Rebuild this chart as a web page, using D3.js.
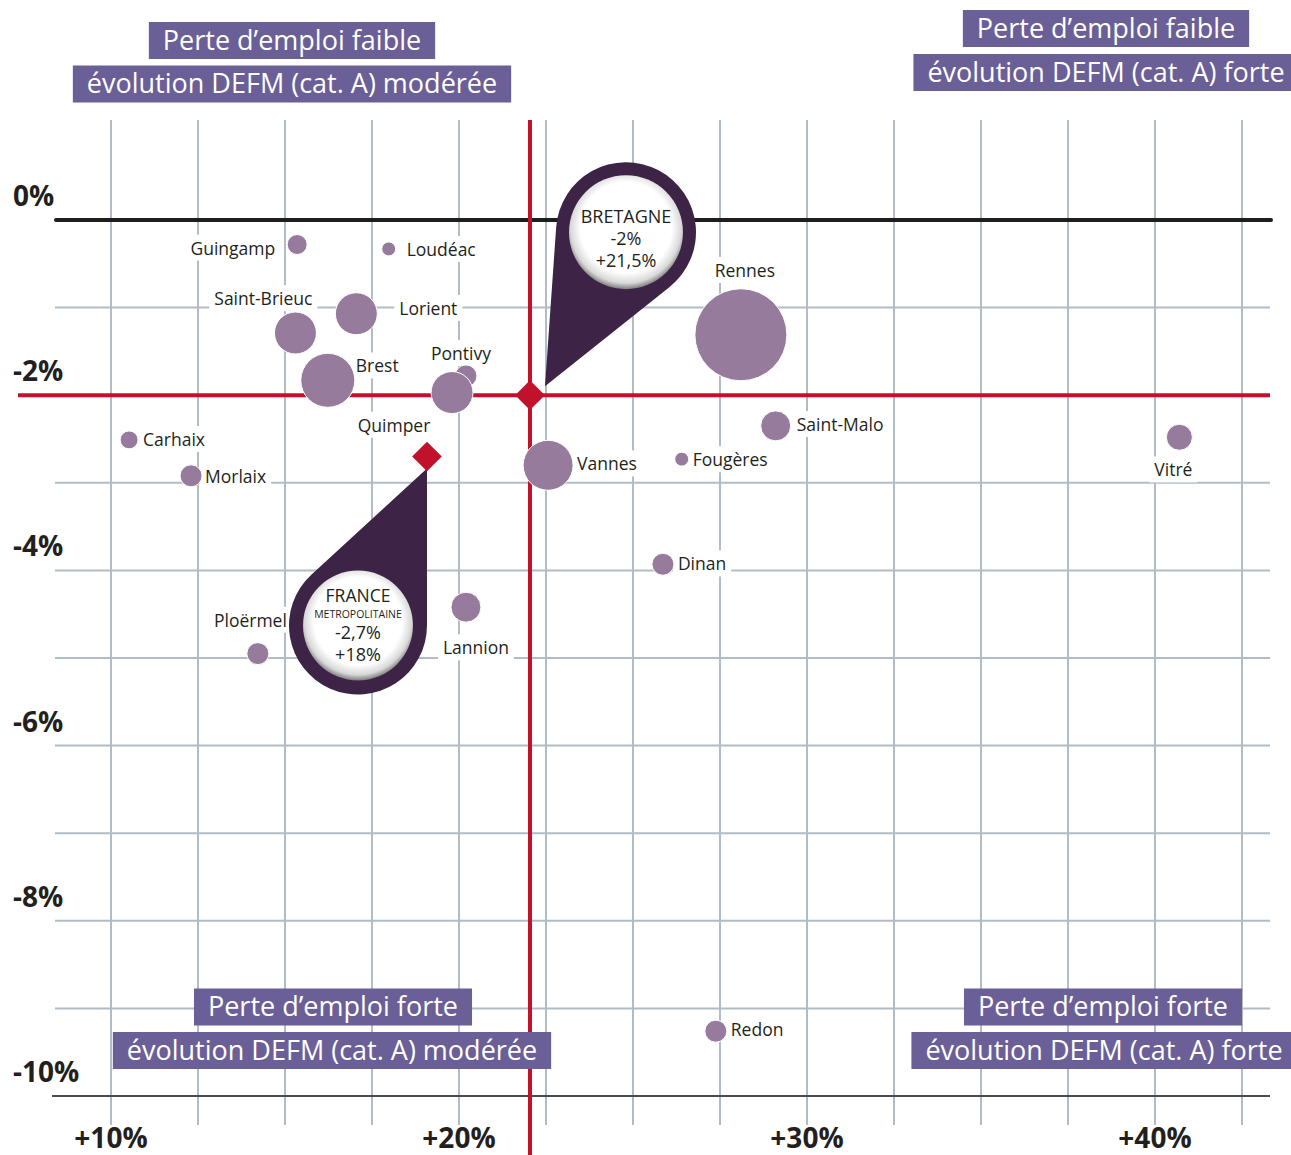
<!DOCTYPE html>
<html>
<head>
<meta charset="utf-8">
<script src="https://cdnjs.cloudflare.com/ajax/libs/d3/7.8.5/d3.min.js"></script>
<style>
  body { margin: 0; background: #fff; }
  svg { display: block; font-family: "Open Sans", "Noto Sans", sans-serif; }
</style>
</head>
<body>
<svg id="chart" width="1291" height="1155"></svg>
<script>
// zones d'emploi : évolution DEFM cat. A (%) en x, évolution de l'emploi (%) en y
const zones = ["Guingamp", "Loudéac", "Saint-Brieuc", "Lorient", "Brest", "Pontivy", "Quimper",
  "Rennes", "Saint-Malo", "Vitré", "Fougères", "Vannes", "Carhaix", "Morlaix", "Dinan",
  "Lannion", "Ploërmel", "Redon"];
const evolDEFM = [15.35, 17.98, 15.3, 17.05, 16.23, 20.2, 19.8,
  28.1, 29.1, 40.7, 26.4, 22.56, 10.52, 12.3, 25.86,
  20.2, 14.22, 27.38];
const evolEmploi = [-0.28, -0.33, -1.29, -1.07, -1.83, -1.78, -1.97,
  -1.31, -2.35, -2.48, -2.73, -2.80, -2.51, -2.92, -3.93,
  -4.42, -4.95, -9.26];
const poids = [4.7, 2.3, 20.8, 20.8, 34.5, 5.7, 20.8,
  100, 10.6, 8, 2.3, 29.5, 3.8, 5.7, 5.7,
  10.6, 5.7, 5.7];

// références
const refNoms = ["BRETAGNE", "FRANCE"];
const refDEFM = [22.04, 19.08];
const refEmploi = [-2.0, -2.7];
const refTextes = [["BRETAGNE", "-2%", "+21,5%"], ["FRANCE", "METROPOLITAINE", "-2,7%", "+18%"]];

const xTicks = [10, 20, 30, 40];
const yTicks = [0, -2, -4, -6, -8, -10];
const quadrants = [
  ["Perte d’emploi faible", "évolution DEFM (cat. A) modérée"],
  ["Perte d’emploi faible", "évolution DEFM (cat. A) forte"],
  ["Perte d’emploi forte", "évolution DEFM (cat. A) modérée"],
  ["Perte d’emploi forte", "évolution DEFM (cat. A) forte"]
];

const gridColor = "#b1bcc6";
const bubbleColor = "#967b9d";
const boxColor = "#6b5f97";
const red = "#c1112b";
const dark = "#3d2446";

const svg = d3.select("#chart");
const x = d3.scaleLinear().domain([10, 40]).range([111, 1155]);
const y = d3.scaleLinear().domain([0, -10]).range([220, 1096]);
const r = d3.scaleSqrt().domain([0, 100]).range([0, 46]);

const defs = svg.append("defs");
const grad = defs.append("radialGradient").attr("id", "bulle")
  .attr("cx", "50%").attr("cy", "46%").attr("r", "54%");
grad.append("stop").attr("offset", "0%").attr("stop-color", "#fff");
grad.append("stop").attr("offset", "74%").attr("stop-color", "#fff");
grad.append("stop").attr("offset", "90%").attr("stop-color", "#d9d9d9");
grad.append("stop").attr("offset", "100%").attr("stop-color", "#7d7d7d");

// grille
const grid = svg.append("g").attr("stroke", gridColor).attr("stroke-width", 2);
grid.selectAll("line.v")
  .data(d3.range(10, 42.6, 2.5))
  .join("line")
  .attr("x1", d => x(d)).attr("x2", d => x(d))
  .attr("y1", 120).attr("y2", 1125);
grid.selectAll("line.h")
  .data(d3.range(-1, -9.5, -1))
  .join("line")
  .attr("x1", 55).attr("x2", 1270)
  .attr("y1", d => y(d)).attr("y2", d => y(d));

// fonds blancs des étiquettes (coupent la grille)
const labelBg = svg.append("g");

// axe bas + ligne 0
svg.append("line").attr("x1", 52).attr("x2", 1270)
  .attr("y1", y(-10)).attr("y2", y(-10))
  .attr("stroke", "#4b4b4b").attr("stroke-width", 2);
svg.append("line").attr("x1", 56).attr("x2", 1271)
  .attr("y1", y(0)).attr("y2", y(0))
  .attr("stroke", "#1e1e1e").attr("stroke-width", 4).attr("stroke-linecap", "round");

// lignes rouges Bretagne
svg.append("line").attr("x1", 18).attr("x2", 1270)
  .attr("y1", y(refEmploi[0])).attr("y2", y(refEmploi[0]))
  .attr("stroke", red).attr("stroke-width", 4);
svg.append("line").attr("x1", x(refDEFM[0])).attr("x2", x(refDEFM[0]))
  .attr("y1", 120).attr("y2", 1155)
  .attr("stroke", red).attr("stroke-width", 4);

// étiquettes des axes
svg.append("g").selectAll("text")
  .data(yTicks).join("text")
  .attr("x", 13).attr("y", d => y(d) - 14)
  .attr("font-size", 28).attr("font-weight", 700).attr("fill", "#231f20")
  .text(d => d + "%");
svg.append("g").selectAll("text")
  .data(xTicks).join("text")
  .attr("x", d => x(d)).attr("y", 1148)
  .attr("text-anchor", "middle")
  .attr("font-size", 28).attr("font-weight", 700).attr("fill", "#231f20")
  .text(d => "+" + d + "%");

// bulles
const bubbles = zones.map((z, i) => ({ nom: z, dx: evolDEFM[i], em: evolEmploi[i], p: poids[i] }));
svg.append("g").selectAll("circle")
  .data(bubbles).join("circle")
  .attr("cx", d => x(d.dx)).attr("cy", d => y(d.em))
  .attr("r", d => r(d.p))
  .attr("fill", bubbleColor).attr("stroke", "#fff").attr("stroke-width", 1);

// placement des étiquettes [ancre, dx, dy]
const place = {
  "Guingamp": ["end", -22, 4], "Loudéac": ["start", 18, 1], "Saint-Brieuc": ["end", 17, -34],
  "Lorient": ["start", 43, -5], "Brest": ["start", 28, -14], "Pontivy": ["middle", -5, -22],
  "Quimper": ["middle", -58, 33], "Rennes": ["middle", 4, -64], "Saint-Malo": ["start", 21, -1],
  "Vitré": ["middle", -6, 33], "Fougères": ["start", 11, 1], "Vannes": ["start", 29, -1],
  "Carhaix": ["start", 14, 0], "Morlaix": ["start", 14, 1], "Dinan": ["start", 15, 0],
  "Lannion": ["middle", 10, 41], "Ploërmel": ["end", 29, -33], "Redon": ["start", 15, -1]
};
const labels = svg.append("g").selectAll("text")
  .data(bubbles).join("text")
  .attr("x", d => x(d.dx) + place[d.nom][1])
  .attr("y", d => y(d.em) + place[d.nom][2])
  .attr("dy", "0.35em")
  .attr("text-anchor", d => place[d.nom][0])
  .attr("font-size", 17.5).attr("fill", "#231f20")
  .text(d => d.nom);
labels.each(function () {
  const b = this.getBBox();
  labelBg.append("rect")
    .attr("x", b.x - 5).attr("y", b.y - 1)
    .attr("width", b.width + 10).attr("height", b.height + 2)
    .attr("fill", "#fff");
});

// bulles de référence (goutte)
const callouts = [
  { cx: 96, cy: -163, R: 70, ri: 57, tip: [15, -9] },
  { cx: -69, cy: 169, R: 69, ri: 55, tip: [0, 12] }
];
function goutte(C, R, T) {
  const dx = T[0] - C[0], dy = T[1] - C[1];
  const d = Math.hypot(dx, dy);
  const a = Math.atan2(dy, dx), b = Math.acos(R / d);
  const p1 = [C[0] + R * Math.cos(a + b), C[1] + R * Math.sin(a + b)];
  const p2 = [C[0] + R * Math.cos(a - b), C[1] + R * Math.sin(a - b)];
  return `M${T[0]},${T[1]}L${p1[0]},${p1[1]}A${R},${R} 0 1 1 ${p2[0]},${p2[1]}Z`;
}
refNoms.forEach((n, i) => {
  const px = x(refDEFM[i]), py = y(refEmploi[i]);
  const c = callouts[i];
  const C = [px + c.cx, py + c.cy];
  const g = svg.append("g");
  g.append("path").attr("d", goutte(C, c.R, [px + c.tip[0], py + c.tip[1]])).attr("fill", dark);
  g.append("circle").attr("cx", C[0]).attr("cy", C[1]).attr("r", c.ri).attr("fill", "url(#bulle)");
  const lines = refTextes[i];
  const sizes = i === 0 ? [18, 18, 18] : [17.5, 10.5, 18, 18];
  const offsets = i === 0 ? [-16, 6, 28] : [-30, -11.5, 7, 29.5];
  lines.forEach((t, k) => {
    g.append("text").attr("x", C[0]).attr("y", C[1] + offsets[k])
      .attr("dy", "0.35em").attr("text-anchor", "middle")
      .attr("font-size", sizes[k]).attr("font-weight", 500).attr("fill", "#231f20")
      .text(t);
  });
  g.append("rect")
    .attr("x", px - 10.5).attr("y", py - 10.5).attr("width", 21).attr("height", 21)
    .attr("transform", `rotate(45,${px},${py})`)
    .attr("fill", red);
});

// encadrés des quadrants
const boxPos = [
  [[292, 40.5], [292, 84]],
  [[1106, 28.5], [1106, 72.5]],
  [[333, 1007], [332, 1050.5]],
  [[1103, 1007], [1104, 1050.5]]
];
quadrants.forEach((q, i) => {
  q.forEach((t, k) => {
    const g = svg.append("g");
    const rect = g.append("rect").attr("fill", boxColor);
    const txt = g.append("text")
      .attr("x", boxPos[i][k][0]).attr("y", boxPos[i][k][1])
      .attr("dy", "0.35em").attr("text-anchor", "middle")
      .attr("font-size", 27).attr("fill", "#fff")
      .text(t);
    const b = txt.node().getBBox();
    rect.attr("x", b.x - 14).attr("width", b.width + 28)
      .attr("y", boxPos[i][k][1] - 18.5).attr("height", 37);
  });
});
</script>
</body>
</html>
